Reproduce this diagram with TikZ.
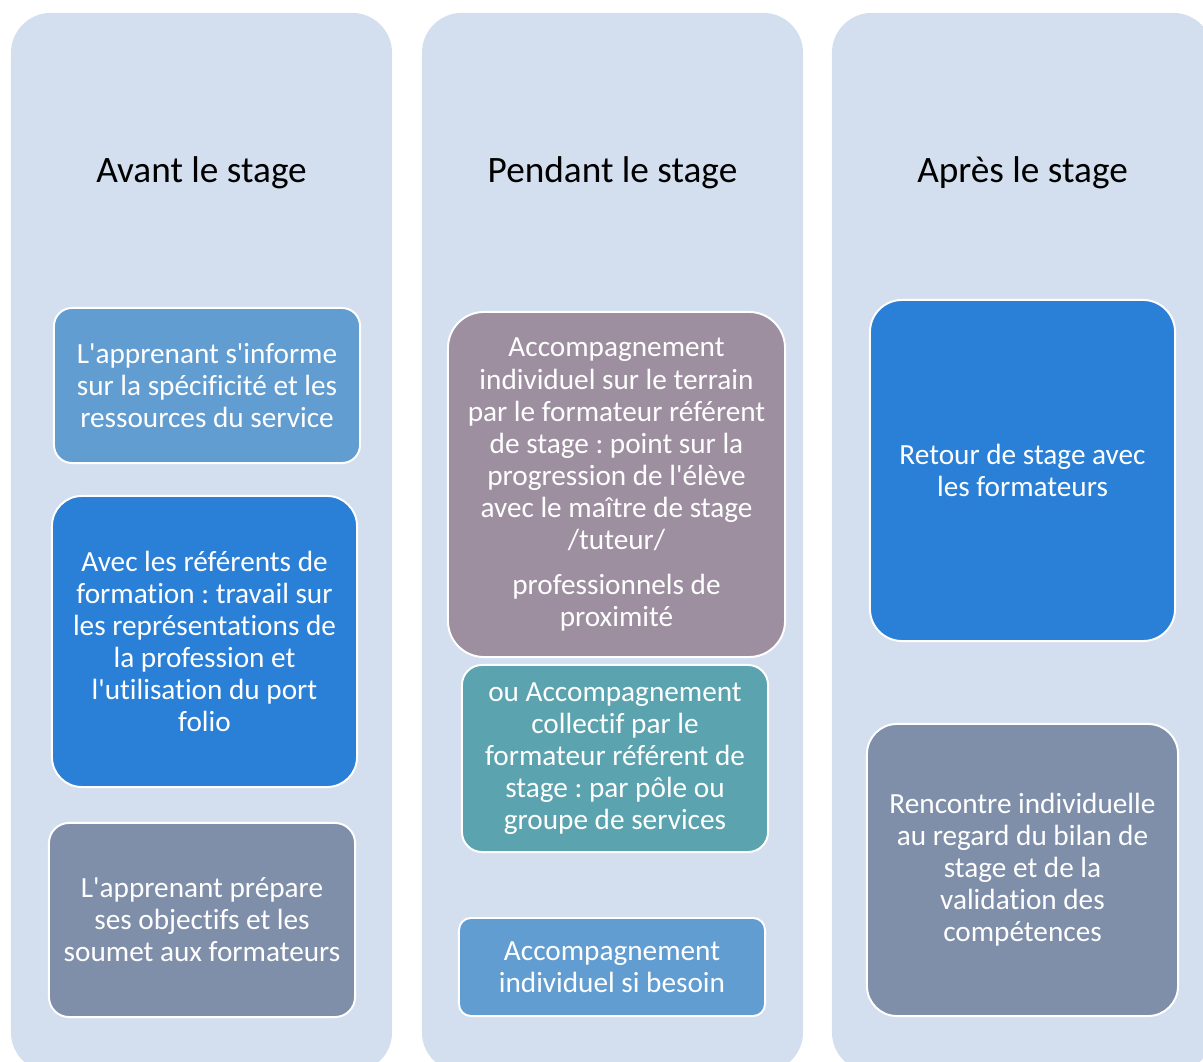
\documentclass[tikz,border=0pt]{standalone}
\usepackage{fontspec}
\setmainfont{Carlito}[Ligatures={TeXOff,CommonOff}]
\frenchspacing

\definecolor{colbg}{RGB}{211,222,238}
\definecolor{lightstep}{RGB}{98,157,210}
\definecolor{deepstep}{RGB}{42,127,214}
\definecolor{greystep}{RGB}{127,143,169}
\definecolor{mauvestep}{RGB}{157,143,160}
\definecolor{tealstep}{RGB}{91,163,174}

\tikzset{
    phase/.style={rectangle, rounded corners=1cm, fill=colbg, minimum width=9.525cm, minimum height=26.475cm, inner sep=0},
    phasetitle/.style={font=\fontsize{26.5}{30}\selectfont, text=black},
    stepbox/.style={rectangle, draw=white, line width=1.4pt, text=white, align=center, inner sep=0, font=\fontsize{20.8}{22.8}\selectfont},
}

\begin{document}
\begin{tikzpicture}[x=0.025cm, y=-0.025cm]
        \useasboundingbox (0, 0) rectangle (1203, 1062);

        % Columns and titles:
        \node[phase] (avant) at (201.5, 542.5) {};
        \node[phase] (pendant) at (612.5, 542.5) {};
        \node[phase] (apres) at (1022.5, 542.5) {};
        \node[phasetitle] (avantT) at (201.5, 172.5) {Avant le stage};
        \node[phasetitle] (pendantT) at (612.5, 172.5) {Pendant le stage};
        \node[phasetitle] (apresT) at (1022.5, 172.5) {Après le stage};

        % Avant le stage:
        \node[stepbox, fill=lightstep, rounded corners=0.45cm, minimum width=7.65cm, minimum height=3.875cm] (informe) at (207, 385.5) {L'apprenant s'informe\\sur la spécificité et les\\ressources du service};
        \node[stepbox, fill=deepstep, rounded corners=0.75cm, minimum width=7.625cm, minimum height=7.275cm] (referents) at (204.5, 641.5) {Avec les référents de\\formation : travail sur\\les représentations de\\la profession et\\l'utilisation du port\\folio};
        \node[stepbox, fill=greystep, rounded corners=0.5cm, minimum width=7.65cm, minimum height=4.85cm] (objectifs) at (202, 920) {L'apprenant prépare\\ses objectifs et les\\soumet aux formateurs};

        % Pendant le stage:
        \node[stepbox, fill=mauvestep, rounded corners=0.9cm, minimum width=8.425cm, minimum height=8.625cm] (terrain) at (616.5, 484.5) {Accompagnement\\individuel sur le terrain\\par le formateur référent\\de stage : point sur la\\progression de l'élève\\avec le maître de stage\\/tuteur/\\[9pt]professionnels de\\proximité};
        \node[stepbox, fill=tealstep, rounded corners=0.5cm, minimum width=7.65cm, minimum height=4.675cm] (collectif) at (615, 758.5) {ou Accompagnement\\collectif par le\\formateur référent de\\stage : par pôle ou\\groupe de services};
        \node[stepbox, fill=lightstep, rounded corners=0.3cm, minimum width=7.65cm, minimum height=2.45cm] (besoin) at (612, 967) {Accompagnement\\individuel si besoin};

        % Après le stage:
        \node[stepbox, fill=deepstep, rounded corners=0.8cm, minimum width=7.625cm, minimum height=8.525cm] (retour) at (1022.5, 470.5) {Retour de stage avec\\les formateurs};
        \node[stepbox, fill=greystep, rounded corners=0.75cm, minimum width=7.775cm, minimum height=7.3cm] (rencontre) at (1022.5, 870) {Rencontre individuelle\\au regard du bilan de\\stage et de la\\validation des\\compétences};
    \end{tikzpicture}
\end{document}
